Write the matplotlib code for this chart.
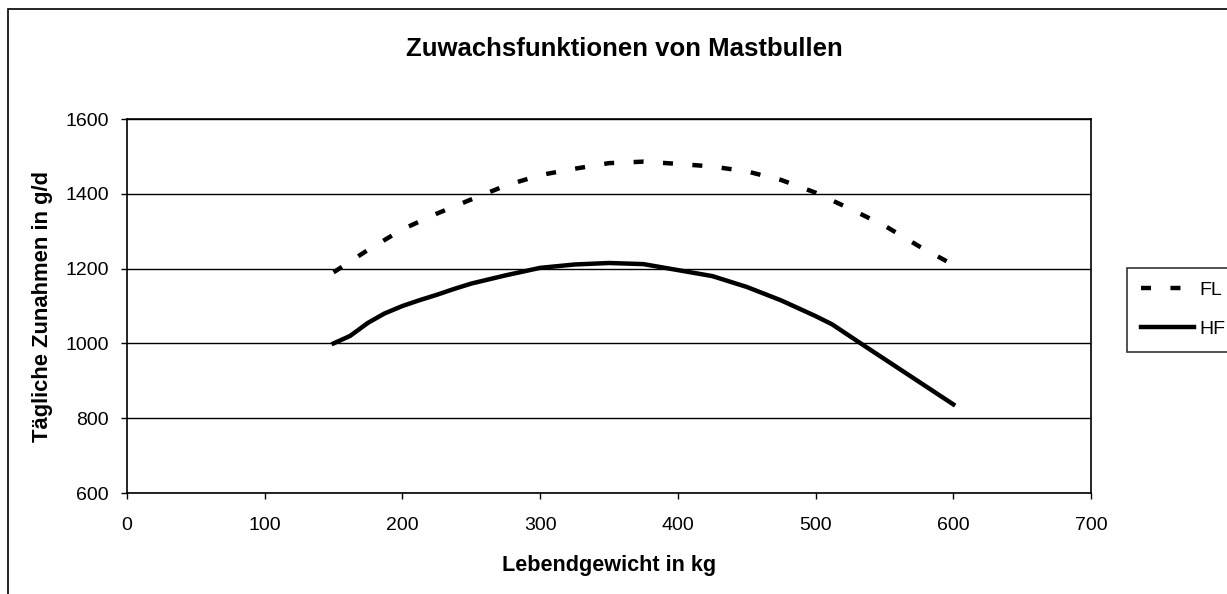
import matplotlib.pyplot as plt
from matplotlib.patches import Rectangle

plt.rcParams['font.family'] = ['Liberation Sans', 'DejaVu Sans']
plt.rcParams['lines.scale_dashes'] = False

# Lebendgewicht (kg) und tägliche Zunahmen (g/d)
gewicht_fl = [150, 175, 200, 225, 250, 275, 300, 325, 350, 375, 400, 425, 450, 475, 500, 525, 550, 575, 600]
zunahme_fl = [1190, 1250, 1305, 1347, 1385, 1422, 1450, 1467, 1482, 1486, 1480, 1473, 1460, 1437, 1403, 1360, 1315, 1260, 1210]

gewicht_hf = [150, 162, 175, 187, 200, 212, 225, 237, 250, 275, 300, 325, 350, 375, 400, 425, 450, 475, 500, 512, 534, 600]
zunahme_hf = [1000, 1020, 1055, 1080, 1100, 1115, 1130, 1145, 1160, 1182, 1202, 1211, 1215, 1212, 1196, 1180, 1151, 1115, 1073, 1051, 997, 837]

W, H = 1227, 594
fig = plt.figure(figsize=(W / 100, H / 100), dpi=100)
ax = fig.add_axes([127 / W, 1 - 493 / H, (1091 - 127) / W, (493 - 119) / H])

ax.plot(gewicht_fl, zunahme_fl, color='black', lw=3.2, linestyle=(0, (7.2, 14)),
        solid_capstyle='butt', dash_capstyle='butt', label='FL')
ax.plot(gewicht_hf, zunahme_hf, color='black', lw=3.2, label='HF')

ax.set_xlim(0, 700)
ax.set_ylim(600, 1600)
ax.set_xticks(range(0, 701, 100))
ax.set_yticks(range(600, 1601, 200))
ax.yaxis.grid(True, color='black', lw=1.0)
ax.set_axisbelow(True)
ax.tick_params(labelsize=14, length=4.5, direction='out', width=1.0)
ax.tick_params(axis='x', pad=13)
ax.tick_params(axis='y', pad=8.5)
for s in ax.spines.values():
    s.set_linewidth(1.2)

fig.text(609 / W, 1 - 565 / H, 'Lebendgewicht in kg', fontsize=15.6, fontweight='bold',
         ha='center', va='center')
fig.text(43 / W, 1 - 306 / H, 'Tägliche Zunahmen in g/d', fontsize=15.8, fontweight='bold',
         ha='center', va='center', rotation=90)
fig.text(624 / W, 1 - 49 / H, 'Zuwachsfunktionen von Mastbullen', fontsize=18.5,
         fontweight='bold', ha='center', va='center')

leg = ax.legend(loc='upper left', bbox_to_anchor=(1127 / W, 1 - 268 / H),
                bbox_transform=fig.transFigure, frameon=True, fancybox=False,
                edgecolor='black', fontsize=14, handlelength=2.75, handletextpad=0.25,
                borderpad=0.7, labelspacing=1.1, borderaxespad=0)
leg.get_frame().set_linewidth(1.2)

fig.patches.append(Rectangle((7.5 / W, -0.1), 1.2, 1 - 9 / H + 0.1, transform=fig.transFigure,
                             fill=False, edgecolor='black', lw=1.2, clip_on=False))

fig.savefig('out.png', dpi=100)
